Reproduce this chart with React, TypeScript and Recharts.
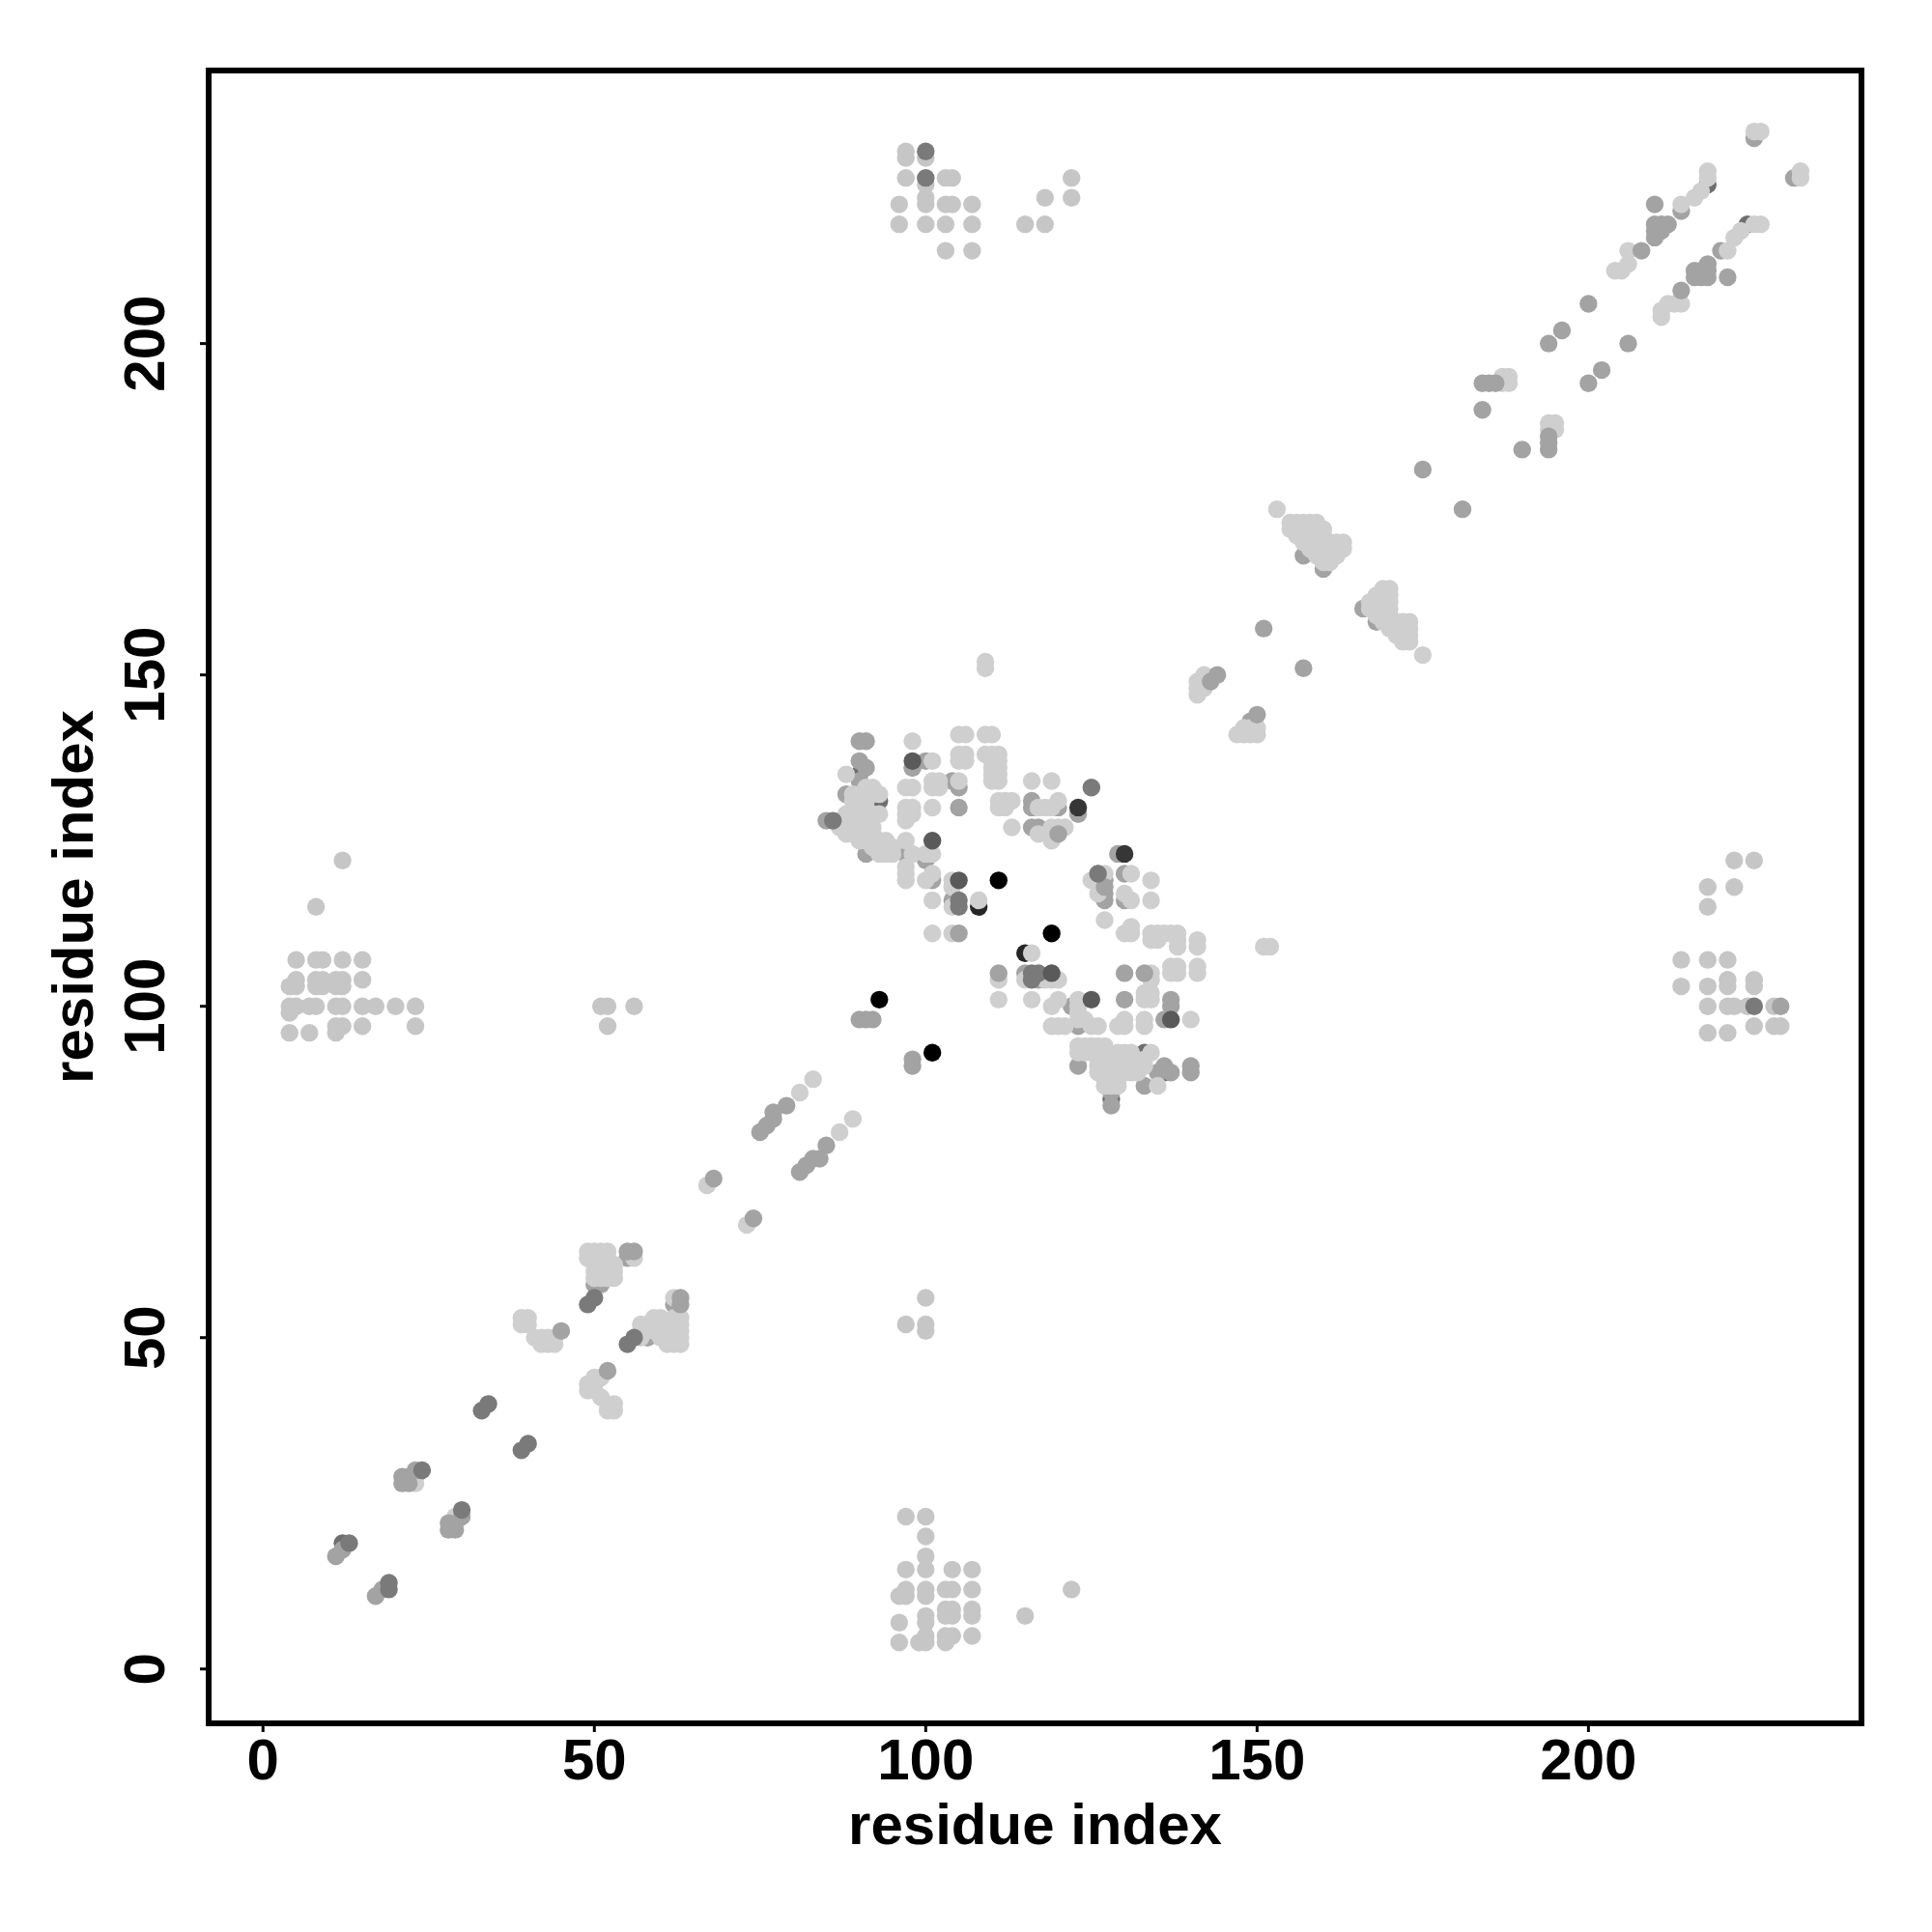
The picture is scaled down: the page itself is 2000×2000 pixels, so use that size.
import { ScatterChart, Scatter, XAxis, YAxis, ReferenceArea, Label } from "recharts";

type Pair = [number, number];

const xTicks = [0, 50, 100, 150, 200];
const yTicks = [0, 50, 100, 150, 200];

// contacts that sit underneath the pale clusters
const baseInk: Pair[] = [[108, 115], [115, 108]];
const baseSlate: Pair[] = [[90, 135], [93, 131], [218, 224], [224, 218], [133, 93], [136, 90], [128, 86], [12, 19]];
const baseMid: Pair[] = [
  [85, 128], [87, 128], [88, 132], [90, 137], [90, 134], [92, 132], [91, 123], [97, 123], [100, 122], [101, 119],
  [98, 136], [100, 137], [104, 134], [105, 133], [104, 116], [116, 130], [116, 131], [116, 127], [117, 127], [120, 130],
  [123, 129], [126, 120], [127, 119], [127, 116], [127, 117], [129, 123], [130, 120], [130, 116], [122, 100], [123, 97],
  [123, 91], [128, 87], [128, 85], [133, 88], [135, 90], [137, 100], [136, 98], [115, 105], [117, 104],
  [157, 168], [160, 166], [166, 160], [168, 158], [214, 220], [220, 214], [231, 225], [225, 231],
  [149, 143], [50, 58], [51, 58], [55, 62], [58, 50], [62, 55], [22, 29], [23, 29], [18, 12], [12, 18], [29, 22],
];

const light: Pair[] = [
  // 1-60 band
  [39, 52], [40, 52], [39, 53], [40, 53], [41, 50], [42, 50], [43, 50], [44, 50], [42, 49], [43, 49], [44, 49],
  [49, 62], [50, 62], [51, 62], [52, 62], [49, 63], [50, 63], [51, 63], [52, 63], [56, 62],
  [50, 60], [51, 60], [52, 60], [53, 60], [50, 61], [51, 61], [52, 61], [53, 61], [50, 59], [51, 59],
  [52, 59], [53, 59], [49, 42], [49, 43], [50, 42], [50, 44], [51, 44], [51, 41], [50, 43],
  [52, 40], [53, 40], [52, 39], [53, 39], [57, 50], [57, 51], [57, 52], [58, 51], [58, 52], [59, 51], [59, 52], [59, 53], [60, 50],
  [60, 51], [60, 52], [60, 53], [61, 49], [61, 50], [62, 49], [63, 49], [62, 50], [63, 50], [62, 51], [63, 51], [62, 52], [63, 52],
  [62, 53], [63, 53], [61, 52], [61, 51], [62, 56], [67, 73], [73, 67], [23, 28], [29, 23], [83, 89], [81, 87], [89, 83], [87, 81],
  // 85-140 cluster
  [88, 135], [98, 140], [105, 141], [106, 141], [109, 141], [110, 141], [101, 137], [105, 138], [106, 138], [105, 137], [106, 137],
  [109, 138], [110, 138], [111, 138], [110, 137], [111, 137], [110, 136], [111, 136], [110, 135], [111, 135], [110, 134], [111, 134],
  [97, 133], [98, 133], [101, 134], [102, 134], [101, 133], [102, 133], [105, 134], [116, 134], [119, 134],
  [91, 133], [92, 133], [93, 132], [91, 132], [90, 132], [89, 132], [89, 131], [90, 131], [91, 131], [90, 130], [91, 130],
  [88, 129], [89, 129], [90, 129], [91, 129], [92, 129], [93, 129], [87, 128], [88, 128], [89, 128], [88, 127], [89, 127], [90, 127], [91, 127], [92, 127],
  [87, 127], [88, 126], [89, 126], [90, 126], [91, 126], [92, 126], [90, 125], [91, 125], [92, 125], [93, 125], [94, 125], [92, 124], [93, 124],
  [94, 124], [95, 124], [93, 123], [94, 123], [95, 123], [97, 125], [98, 123], [97, 121], [97, 120], [97, 119],
  [100, 123], [101, 123], [100, 119], [101, 120], [104, 119], [104, 118], [101, 116], [104, 115], [108, 116], [101, 111], [104, 111],
  [111, 131], [112, 131], [113, 131], [111, 130], [112, 130], [117, 130], [118, 130], [120, 131], [119, 130], [113, 127], [117, 126], [119, 127],
  [119, 125], [119, 126], [121, 127], [120, 127], [97, 130], [98, 130], [97, 129], [98, 129], [97, 128], [101, 130],
  [116, 108], [111, 104], [111, 101], [116, 101], [115, 104], [118, 104], [119, 104], [120, 104], [120, 101], [119, 100], [123, 101], [123, 100], [123, 99],
  [119, 97], [120, 97], [121, 97], [123, 98], [125, 97], [126, 97], [124, 98], [134, 105], [134, 104], [137, 105], [138, 105], [137, 106], [138, 106],
  [141, 106], [141, 105], [141, 110], [141, 109], [134, 111], [135, 111], [136, 111], [137, 111], [138, 111], [134, 110], [135, 110],
  [138, 109], [138, 110], [130, 111], [131, 111], [131, 112], [127, 113], [127, 120], [125, 119], [131, 120], [134, 119],
  [126, 117], [130, 117], [131, 116], [134, 116], [133, 102], [134, 102], [133, 101], [134, 101], [130, 98], [129, 97], [130, 97], [133, 98], [133, 97], [140, 98],
  [123, 94], [123, 93], [124, 94], [124, 93], [125, 94], [125, 93], [126, 94], [126, 93], [126, 92], [126, 91], [126, 90], [127, 94], [127, 93], [127, 92],
  [127, 91], [127, 90], [127, 89], [127, 88], [128, 91], [128, 90], [128, 89], [128, 88], [129, 93], [129, 92], [129, 91], [129, 90], [129, 89], [129, 88], [130, 93], [130, 92], [130, 91],
  [130, 90], [131, 93], [131, 92], [131, 91], [131, 90], [132, 91], [132, 90], [133, 92], [133, 91], [134, 93], [135, 88],
  // 140-175 band
  [141, 147], [141, 148], [141, 149], [142, 150], [142, 148], [142, 149], [147, 141], [148, 141], [149, 141], [148, 142], [149, 142], [150, 142], [150, 141],
  [153, 175], [155, 173], [156, 173], [157, 173], [158, 173], [159, 173], [155, 172], [156, 172], [157, 172], [158, 172], [159, 172], [160, 172],
  [156, 171], [157, 171], [158, 171], [159, 171], [160, 171], [157, 170], [158, 170], [159, 170], [160, 170], [161, 170], [162, 170], [163, 170],
  [158, 169], [159, 169], [160, 169], [161, 169], [162, 169], [163, 169], [159, 168], [160, 168], [161, 168], [162, 168], [160, 167], [161, 167],
  [169, 163], [170, 163], [168, 162], [169, 162], [170, 162], [167, 161], [168, 161], [169, 161], [170, 161], [167, 160], [168, 160], [169, 160], [170, 160],
  [168, 159], [169, 159], [170, 159], [169, 158], [170, 158], [171, 158], [172, 158], [173, 158], [170, 157], [171, 157], [172, 157], [173, 157],
  [171, 156], [172, 156], [173, 156], [172, 155], [173, 155], [175, 153], [151, 109], [152, 109], [109, 152], [109, 151],
  // 184-232 band
  [187, 195], [188, 195], [187, 194], [188, 194], [194, 188], [195, 188], [194, 187], [195, 187],
  [206, 214], [206, 212], [204, 211], [205, 211], [214, 206], [212, 206], [211, 205], [211, 204], [213, 206],
  [214, 221], [216, 222], [217, 223], [218, 225], [218, 226], [221, 214], [222, 216], [223, 217], [225, 218], [226, 218], [225, 232], [226, 232], [232, 226], [232, 225],
];

// off-diagonal patches are a touch darker than the bands
const soft: Pair[] = [
  [12, 122], [8, 115], [5, 107], [8, 107], [9, 107], [12, 107], [15, 107], [5, 104], [8, 104], [9, 104], [11, 104], [12, 104], [15, 104],
  [4, 103], [5, 103], [8, 103], [9, 103], [11, 103], [12, 103], [4, 100], [5, 100], [7, 100], [8, 100], [11, 100], [12, 100], [15, 100], [17, 100], [20, 100], [23, 100],
  [4, 99], [11, 97], [12, 97], [15, 97], [23, 97], [4, 96], [7, 96], [11, 96], [51, 100], [52, 100], [56, 100], [52, 97],
  [97, 229], [97, 228], [100, 228], [97, 225], [100, 224], [103, 225], [104, 225], [96, 221], [100, 222], [100, 221], [103, 221], [104, 221], [107, 221],
  [96, 218], [100, 218], [103, 218], [107, 218], [103, 214], [107, 214], [122, 225], [118, 222], [122, 222], [115, 218], [118, 218],
  [97, 23], [100, 23], [100, 20], [100, 17], [100, 15], [97, 15], [104, 15], [107, 15], [97, 12], [96, 11], [97, 11], [100, 12], [100, 11], [103, 12], [104, 12], [107, 12],
  [103, 9], [104, 9], [103, 8], [104, 8], [107, 9], [107, 8], [100, 8], [100, 7], [96, 7], [96, 4], [99, 4], [100, 5], [100, 4], [103, 4], [103, 5], [104, 5], [107, 5], [115, 8], [122, 12],
  [222, 122], [225, 122], [218, 118], [222, 118], [218, 115], [214, 107], [218, 107], [221, 107], [214, 103], [218, 103], [221, 104], [221, 103], [225, 104], [225, 103],
  [218, 100], [221, 100], [222, 100], [224, 100], [228, 100], [225, 97], [228, 97], [229, 97], [218, 96], [221, 96],
  [97, 52], [100, 56], [100, 52], [100, 51],
];

const mid: Pair[] = [
  [11, 17], [17, 11], [21, 28], [21, 29], [22, 28], [23, 30], [28, 22], [28, 21], [29, 21], [30, 23], [45, 51], [52, 45], [55, 63], [56, 63], [63, 56], [63, 55], [68, 74], [74, 68],
  [75, 81], [76, 82], [77, 83], [77, 84], [79, 85], [81, 75], [82, 76], [83, 77], [84, 77], [85, 79],
  [90, 140], [91, 140], [91, 136], [98, 136], [105, 130], [90, 98], [91, 98], [92, 98], [98, 92], [98, 91], [105, 111], [111, 105], [120, 126], [130, 105], [133, 105],
  [136, 91], [137, 90], [140, 91], [140, 90], [127, 118], [130, 101], [137, 101],
  [143, 149], [144, 150], [150, 144], [151, 157], [157, 151], [175, 181], [181, 175], [184, 194], [185, 194], [186, 194], [184, 190], [190, 184], [194, 184], [194, 185], [194, 186],
  [194, 200], [196, 202], [200, 206], [206, 200], [202, 196], [200, 194], [208, 214], [210, 221], [214, 208], [221, 210], [210, 218], [211, 218], [212, 218], [210, 217], [211, 217],
  [210, 216], [216, 210], [217, 210], [218, 210], [216, 211], [217, 211], [218, 211], [218, 212], [229, 100],
];

const slate: Pair[] = [
  [13, 19], [19, 13], [19, 12], [24, 30], [30, 24], [33, 39], [34, 40], [39, 33], [40, 34], [49, 55], [50, 56], [55, 49], [56, 50], [86, 128], [125, 133],
  [116, 105], [117, 105], [116, 104], [105, 116], [105, 115], [126, 120], [100, 229], [100, 225], [225, 100],
];
const dark: Pair[] = [[98, 137], [101, 125], [105, 119], [119, 105], [125, 101], [137, 98]];
const ink: Pair[] = [[123, 130], [130, 123]];
const black: Pair[] = [[93, 101], [101, 93], [111, 119], [119, 111]];

const toPoints = (pairs: Pair[]) => pairs.map(([x, y]) => ({ x, y }));

const layers: { name: string; pairs: Pair[]; fill: string }[] = [
  { name: "baseInk", pairs: baseInk, fill: "#262626" },
  { name: "baseSlate", pairs: baseSlate, fill: "#6e6e6e" },
  { name: "baseMid", pairs: baseMid, fill: "#a3a3a3" },
  { name: "light", pairs: light, fill: "#cfcfcf" },
  { name: "soft", pairs: soft, fill: "#c6c6c6" },
  { name: "mid", pairs: mid, fill: "#a3a3a3" },
  { name: "slate", pairs: slate, fill: "#7a7a7a" },
  { name: "dark", pairs: dark, fill: "#5a5a5a" },
  { name: "ink", pairs: ink, fill: "#363636" },
  { name: "black", pairs: black, fill: "#000000" },
];

const FONT = "'Liberation Sans', Arial, sans-serif";

function XTick({ x, y, payload }: any) {
  return (
    <text x={x} y={y + 47} textAnchor="middle" fontFamily={FONT} fontWeight="bold" fontSize={60} fill="#000">
      {payload.value}
    </text>
  );
}

function YTick({ x, y, payload }: any) {
  const baseline = x - 35;
  return (
    <text
      x={baseline}
      y={y}
      transform={`rotate(-90 ${baseline} ${y})`}
      textAnchor="middle"
      fontFamily={FONT}
      fontWeight="bold"
      fontSize={60}
      fill="#000"
    >
      {payload.value}
    </text>
  );
}

const Dot = (props: any) => <circle cx={props.cx} cy={props.cy} r={9.2} fill={props.fill} />;

export default function App() {
  return (
    <div style={{ position: "absolute", left: 0, top: 0, width: 2000, height: 2000, background: "#fff" }}>
      <ScatterChart width={2000} height={2000} margin={{ top: 73, right: 73, bottom: 0, left: 0 }}>
        <XAxis
          type="number"
          dataKey="x"
          domain={[-8.2, 241.2]}
          ticks={xTicks}
          height={216}
          allowDataOverflow
          axisLine={false}
          tickLine={{ stroke: "#000", strokeWidth: 3 }}
          tickSize={9}
          tick={<XTick />}
          interval={0}
        >
          <Label
            value="residue index"
            position="insideBottom"
            offset={91}
            style={{ fontFamily: FONT, fontWeight: "bold", fontSize: 60, fill: "#000" }}
          />
        </XAxis>
        <YAxis
          type="number"
          dataKey="y"
          domain={[-8.2, 241.2]}
          ticks={yTicks}
          width={216}
          allowDataOverflow
          axisLine={false}
          tickLine={{ stroke: "#000", strokeWidth: 3 }}
          tickSize={9}
          tick={<YTick />}
          interval={0}
        >
          <Label
            value="residue index"
            angle={-90}
            position="insideLeft"
            offset={75}
            style={{ textAnchor: "middle", fontFamily: FONT, fontWeight: "bold", fontSize: 60, fill: "#000" }}
          />
        </YAxis>
        {layers.map((layer) => (
          <Scatter
            key={layer.name}
            name={layer.name}
            data={toPoints(layer.pairs)}
            fill={layer.fill}
            shape={Dot}
            isAnimationActive={false}
          />
        ))}
        <ReferenceArea
          x1={-8.2}
          x2={241.2}
          y1={-8.2}
          y2={241.2}
          fill="none"
          stroke="#000"
          strokeWidth={6}
          ifOverflow="visible"
        />
      </ScatterChart>
    </div>
  );
}
